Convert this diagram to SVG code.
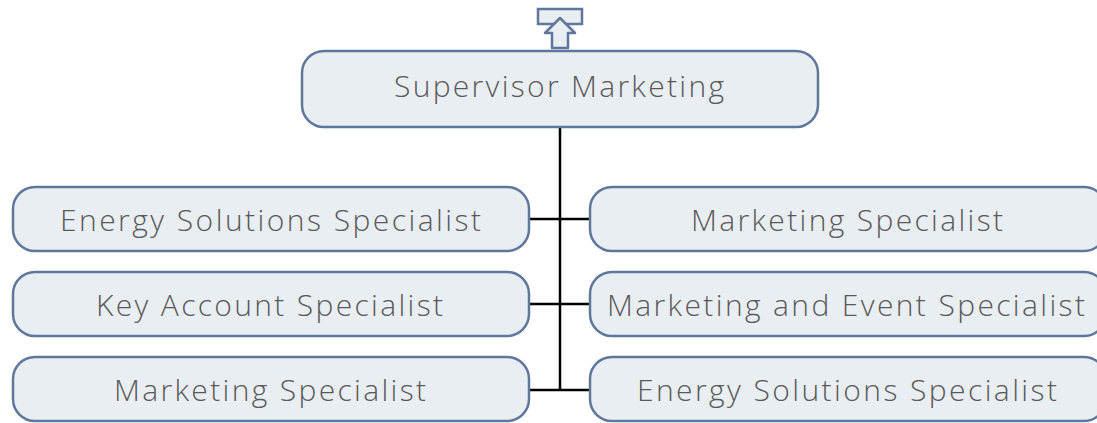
<svg xmlns="http://www.w3.org/2000/svg" width="1097" height="423" viewBox="0 0 1097 423">
<style>
.box{fill:#e9eef2;stroke:#60779c;stroke-width:2.5}
.lbl{font-family:"Open Sans","Liberation Sans",sans-serif;font-weight:300;font-size:30px;fill:#595959;text-anchor:middle}
.conn{stroke:#000;stroke-width:2.5;fill:none}
</style>
<rect width="1097" height="423" fill="#fff"/>
<g id="up-icon">
<rect class="box" x="538" y="9" width="44" height="15"/>
<path class="box" d="M560 18 L575 33 L568 33 L568 48 L552 48 L552 33 L545 33 Z" stroke-linejoin="round"/>
</g>
<g id="connectors">
<path class="conn" d="M560 127 V390 M529 219 H590 M529 304 H590 M529 390 H590"/>
</g>
<g id="n-supervisor">
<rect class="box" x="302" y="51" width="516" height="76" rx="22"/>
<text class="lbl" x="559" y="97" textLength="330" lengthAdjust="spacing">Supervisor Marketing</text>
</g>
<g id="n-l1">
<rect class="box" x="13" y="187" width="516" height="64" rx="22"/>
<text class="lbl" x="270.5" y="231" textLength="421" lengthAdjust="spacing">Energy Solutions Specialist</text>
</g>
<g id="n-l2">
<rect class="box" x="13" y="272" width="516" height="64" rx="22"/>
<text class="lbl" x="269.5" y="316" textLength="347" lengthAdjust="spacing">Key Account Specialist</text>
</g>
<g id="n-l3">
<rect class="box" x="13" y="357" width="516" height="64" rx="22"/>
<text class="lbl" x="270" y="401" textLength="312" lengthAdjust="spacing">Marketing Specialist</text>
</g>
<g id="n-r1">
<rect class="box" x="590" y="187" width="516" height="64" rx="22"/>
<text class="lbl" x="847" y="231" textLength="312" lengthAdjust="spacing">Marketing Specialist</text>
</g>
<g id="n-r2">
<rect class="box" x="590" y="272" width="516" height="64" rx="22"/>
<text class="lbl" x="846" y="316" textLength="478" lengthAdjust="spacing">Marketing and Event Specialist</text>
</g>
<g id="n-r3">
<rect class="box" x="590" y="357" width="516" height="64" rx="22"/>
<text class="lbl" x="847" y="401" textLength="420" lengthAdjust="spacing">Energy Solutions Specialist</text>
</g>
</svg>
